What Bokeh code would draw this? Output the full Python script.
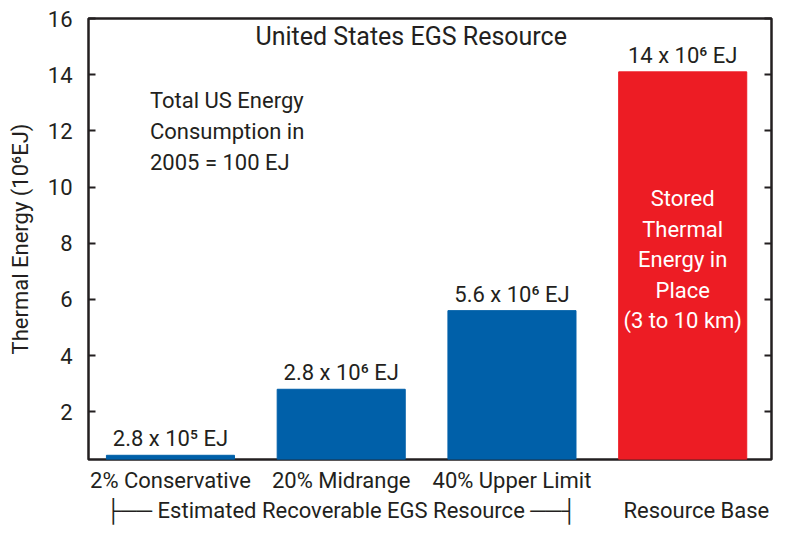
from bokeh.plotting import figure
from bokeh.models import Range1d, LinearAxis, FixedTicker, Label, ColumnDataSource
from bokeh.core.properties import value
from bokeh.embed import file_html
from bokeh.resources import INLINE

# ---- data ----
categories = ["2% Conservative", "20% Midrange", "40% Upper Limit", "Stored Thermal Energy in Place"]
x_pos = [0, 1, 2, 3]
values = [0.45, 2.8, 5.6, 14.1]
bar_labels = ["2.8 x 10\u2075 EJ", "2.8 x 10\u2076 EJ", "5.6 x 10\u2076 EJ", "14 x 10\u2076 EJ"]
bar_colors = ["#0060A9", "#0060A9", "#0060A9", "#ED1C24"]
y_ticks = [2, 4, 6, 8, 10, 12, 14, 16]
group_labels = ["\u251c\u2500\u2500 Estimated Recoverable EGS Resource \u2500\u2500\u2524", "Resource Base"]
group_x = [1, 3.08]
title_text = "United States EGS Resource"
note_text = "Total US Energy\nConsumption in\n2005 = 100 EJ"
base_text = "Stored\nThermal\nEnergy in\nPlace\n(3 to 10 km)"

FONT = "Roboto"
TXT = "#231F20"
FS = "22px"

src = ColumnDataSource(dict(x=x_pos, top=values, label=bar_labels, color=bar_colors))

p = figure(width=773, height=525, output_backend="svg", toolbar_location=None,
           x_range=Range1d(-0.48, 3.52), y_range=Range1d(0.3, 16),
           min_border_left=88, min_border_right=2, min_border_top=18, min_border_bottom=0)
p.background_fill_color = "white"
p.border_fill_color = "white"
p.outline_line_color = TXT
p.outline_line_width = 2.5
p.xgrid.visible = False
p.ygrid.visible = False

p.vbar(x="x", top="top", bottom=0, width=0.75, color="color", source=src)
p.text(x="x", y="top", text="label", source=src, text_align="center", text_baseline="bottom",
       y_offset=-4, text_font=value(FONT), text_font_size=FS, text_color=TXT)

# left axis
ya = p.yaxis[0]
ya.ticker = FixedTicker(ticks=y_ticks)
ya.major_tick_in = 7
ya.major_tick_out = 0
ya.minor_tick_in = 0
ya.minor_tick_out = 0
ya.axis_line_color = None
ya.major_tick_line_color = TXT
ya.major_tick_line_width = 2
ya.major_label_text_font = FONT
ya.major_label_text_font_size = FS
ya.major_label_text_color = TXT
ya.major_label_standoff = 16
ya.axis_label = "Thermal Energy (10\u2076EJ)"
ya.axis_label_text_font = FONT
ya.axis_label_text_font_size = FS
ya.axis_label_text_font_style = "normal"
ya.axis_label_text_color = TXT
ya.axis_label_standoff = 12

# bottom axis: category names
xa = p.xaxis[0]
xa.ticker = FixedTicker(ticks=x_pos[:3])
xa.major_label_overrides = {i: categories[i] for i in range(3)}
xa.major_tick_in = 0
xa.major_tick_out = 0
xa.minor_tick_in = 0
xa.minor_tick_out = 0
xa.axis_line_color = None
xa.major_label_text_font = FONT
xa.major_label_text_font_size = FS
xa.major_label_text_color = TXT
xa.major_label_standoff = 8

# second bottom axis: group names
ga = LinearAxis(ticker=FixedTicker(ticks=group_x),
                major_label_overrides={group_x[i]: group_labels[i] for i in range(2)},
                major_tick_in=0, major_tick_out=0, minor_tick_in=0, minor_tick_out=0,
                axis_line_color=None, major_label_text_font=FONT, major_label_text_font_size=FS,
                major_label_text_color=TXT, major_label_standoff=2)
p.add_layout(ga, "below")

# right axis (ticks only)
ra = LinearAxis(ticker=FixedTicker(ticks=y_ticks), major_tick_in=7, major_tick_out=0,
                minor_tick_in=0, minor_tick_out=0, axis_line_color=None,
                major_tick_line_color=TXT, major_tick_line_width=2,
                major_label_overrides={t: "" for t in y_ticks}, major_label_standoff=0)
p.add_layout(ra, "right")

p.add_layout(Label(x=1.41, y=15.37, text=title_text, text_align="center", text_baseline="middle",
                   text_font=FONT, text_font_size="25px", text_color=TXT))
p.add_layout(Label(x=-0.12, y=13.54, text=note_text, text_align="left", text_baseline="top",
                   text_font=FONT, text_font_size=FS, text_color=TXT, text_line_height=1.25))
p.add_layout(Label(x=3, y=7.41, text=base_text, text_align="center", text_baseline="middle",
                   text_font=FONT, text_font_size=FS, text_color="white", text_line_height=1.22))

open("out.html", "w").write(file_html(p, INLINE))
